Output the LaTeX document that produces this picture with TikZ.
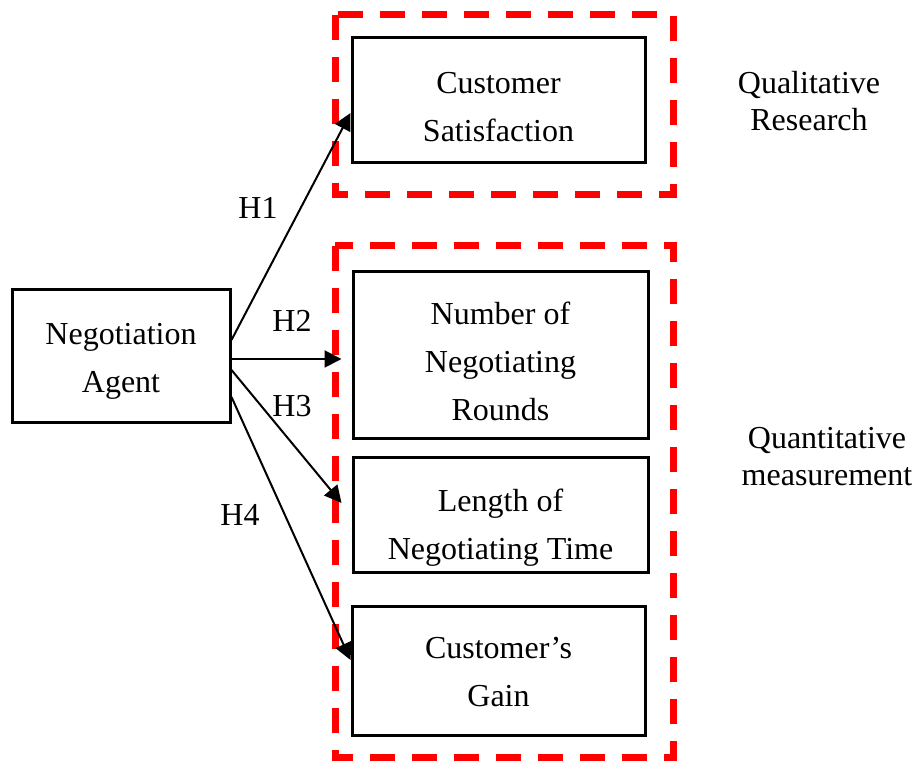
\documentclass[tikz,border=0pt]{standalone}
\usepackage{fontspec}
\setmainfont{Liberation Serif}
\usetikzlibrary{arrows.meta,calc}

\newcommand{\boxlines}[2][0pt]{\raisebox{-#1}[\height][\depth]{\begin{tabular}{@{}c@{}}#2\end{tabular}}}

\tikzset{
  box/.style={draw, line width=1.5pt, inner sep=0pt,
    font=\fontsize{16}{24}\selectfont},
  side/.style={align=center, font=\fontsize{16}{18.5}\selectfont},
  hyp/.style={font=\fontsize{16}{18}\selectfont},
  link/.style={-{Triangle[length=8.5pt,width=8.5pt]}, line width=1pt},
  group/.style={red, line width=3.5pt, dash pattern=on 12.5pt off 8.5pt}
}

\begin{document}
\begin{tikzpicture}[x=0.5pt,y=-0.5pt]
	\useasboundingbox (0,0) rectangle (915,763);
	%The research groups
	\draw[group] (335,15) rectangle (673,195);
	\draw[group] (335,246) rectangle (673,757);
	%The agent and the outcomes
	\node[box, minimum width=109pt, minimum height=66.5pt] (agent) at (121,356.5) {\boxlines[1pt]{Negotiation\\Agent}};
	\node[box, minimum width=146.5pt, minimum height=62.5pt] (sat) at (498.5,100.5) {\boxlines[3.5pt]{Customer\\Satisfaction}};
	\node[box, minimum width=147.5pt, minimum height=83.5pt] (rounds) at (500.5,355.5) {\boxlines[3.5pt]{Number of\\Negotiating\\Rounds}};
	\node[box, minimum width=147.5pt, minimum height=57.5pt] (time) at (500.5,515.5) {\boxlines[5pt]{Length of\\Negotiating Time}};
	\node[box, minimum width=146.5pt, minimum height=64pt] (gain) at (498.5,671) {\boxlines[1pt]{Customer's\\Gain}};
	%The side notes
	\node[side] (qual) at (809,101.5) {Qualitative\\Research};
	\node[side] (quant) at (827,456.5) {Quantitative\\measurement};
	%The hypotheses
	\coordinate (s1) at ($(agent.east)+(0,-16.5)$);
	\coordinate (s2) at ($(agent.east)+(0,2.5)$);
	\coordinate (s3) at ($(agent.east)+(0,13.5)$);
	\coordinate (s4) at ($(agent.east)+(0,40.5)$);
	\coordinate (e1) at ($(sat.west)+(0,12.5)$);
	\coordinate (e2) at ($(rounds.west)+(-10,3.5)$);
	\coordinate (e3) at ($(time.west)+(-10,-12.5)$);
	\coordinate (e4) at ($(gain.west)+(0,-11)$);
	\draw[link] (s1) -- (e1);
	\draw[link] (s2) -- (e2);
	\draw[link] (s3) -- (e3);
	\draw[link] (s4) -- (e4);
	\node[hyp] (h1) at (258,208) {H1};
	\node[hyp] (h2) at (292,321) {H2};
	\node[hyp] (h3) at (292,406) {H3};
	\node[hyp] (h4) at (240,515) {H4};
\end{tikzpicture}
\end{document}
